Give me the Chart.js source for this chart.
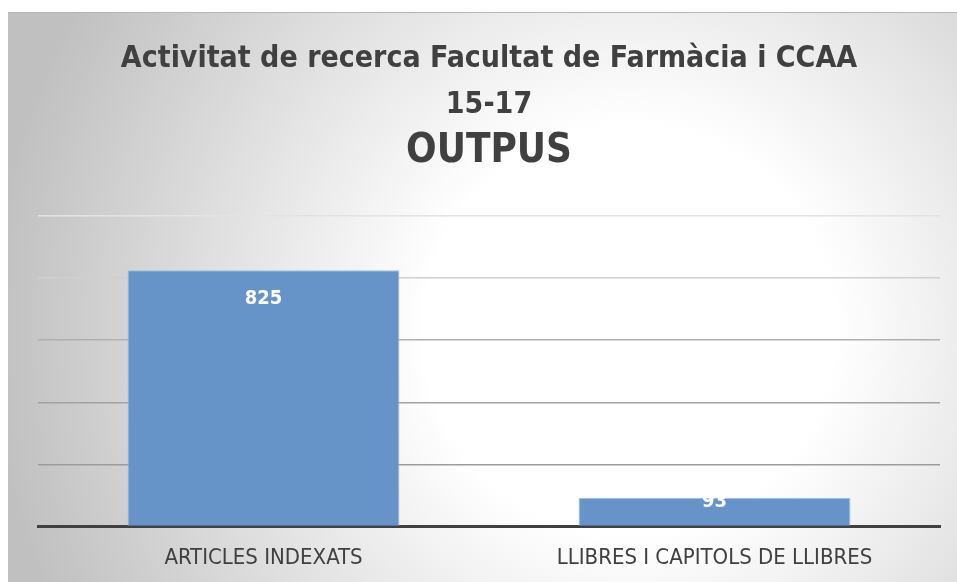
<!DOCTYPE html>
<html>
<head>
<meta charset="utf-8">
<script src="https://cdn.jsdelivr.net/npm/chart.js@4/dist/chart.umd.min.js"></script>
<style>
  html, body { margin: 0; padding: 0; background: #fff; }
  #wrap { width: 957px; height: 582px; position: relative; }
</style>
</head>
<body>
<div id="wrap"><canvas id="chart"></canvas></div>
<script>
const categories = ['ARTICLES INDEXATS', 'LLIBRES I CAPITOLS DE LLIBRES'];
const outputs = [825, 93];
const titleLines = ['Activitat de recerca Facultat de Farmàcia i CCAA', '15-17'];
const subtitleText = 'OUTPUS';

const FONT = '"Liberation Sans Narrow", "DejaVu Sans Condensed", "Open Sans", sans-serif';
const TEXT = '#404040';

const gridColors = {
  1000: '#e3e3e3',
  800: '#cfcfcf',
  600: '#b0b0b0',
  400: '#a2a2a2',
  200: '#9c9c9c',
};

// grey card with a soft radial highlight, like the office chart style
const backdrop = {
  id: 'backdrop',
  beforeDraw(chart) {
    const { ctx, width, height } = chart;
    ctx.save();
    ctx.fillStyle = '#fff';
    ctx.fillRect(0, 0, width, height);
    const g = ctx.createRadialGradient(630, 330, 0, 630, 330, 640);
    g.addColorStop(0, '#ffffff');
    g.addColorStop(0.32, '#ffffff');
    g.addColorStop(1, '#c0c0c0');
    ctx.fillStyle = g;
    ctx.fillRect(8, 12, width - 8, height - 12);
    ctx.strokeStyle = '#b5b5b5';
    ctx.lineWidth = 1;
    ctx.beginPath();
    ctx.moveTo(8, 12.5);
    ctx.lineTo(width, 12.5);
    ctx.stroke();
    ctx.restore();
  },
};

const barLabels = {
  id: 'barLabels',
  afterDatasetsDraw(chart) {
    const { ctx } = chart;
    const meta = chart.getDatasetMeta(0);
    ctx.save();
    ctx.fillStyle = '#fff';
    ctx.font = 'bold 20px ' + FONT;
    ctx.textAlign = 'center';
    ctx.textBaseline = 'middle';
    meta.data.forEach((bar, i) => {
      const y = Math.min(bar.y + 29, bar.base - 24);
      ctx.fillText(String(outputs[i]), bar.x, y);
    });
    ctx.restore();
  },
};

new Chart(document.getElementById('chart'), {
  type: 'bar',
  data: {
    labels: categories,
    datasets: [{
      data: outputs,
      backgroundColor: '#6794c8',
      borderColor: '#a3c0e2',
      borderWidth: 1,
      categoryPercentage: 1,
      barPercentage: 0.603,
    }],
  },
  options: {
    responsive: true,
    maintainAspectRatio: false,
    animation: false,
    layout: { padding: { left: 38, right: 17, top: 0, bottom: -7 } },
    plugins: {
      legend: { display: false },
      tooltip: { enabled: false },
      title: {
        display: true,
        text: titleLines,
        color: TEXT,
        font: { family: FONT, size: 30, weight: 'bold', lineHeight: 1.53 },
        padding: { top: 36, bottom: 0 },
      },
      subtitle: {
        display: true,
        text: subtitleText,
        color: TEXT,
        font: { family: FONT, size: 40, weight: 'bold', lineHeight: 1.2 },
        padding: { top: 0, bottom: 40 },
      },
    },
    scales: {
      x: {
        grid: { display: false, drawTicks: false, tickLength: 0 },
        border: { color: '#404040', width: 3 },
        ticks: {
          color: TEXT,
          font: { family: FONT, size: 22 },
          padding: 18,
        },
      },
      y: {
        min: 0,
        max: 1000,
        ticks: { display: false, stepSize: 200 },
        border: { display: false },
        grid: {
          drawTicks: false,
          lineWidth: 1.5,
          color: c => gridColors[c.tick.value] || 'rgba(0,0,0,0)',
        },
        afterFit: s => { s.width = 0; },
      },
    },
  },
  plugins: [backdrop, barLabels],
});
</script>
</body>
</html>
